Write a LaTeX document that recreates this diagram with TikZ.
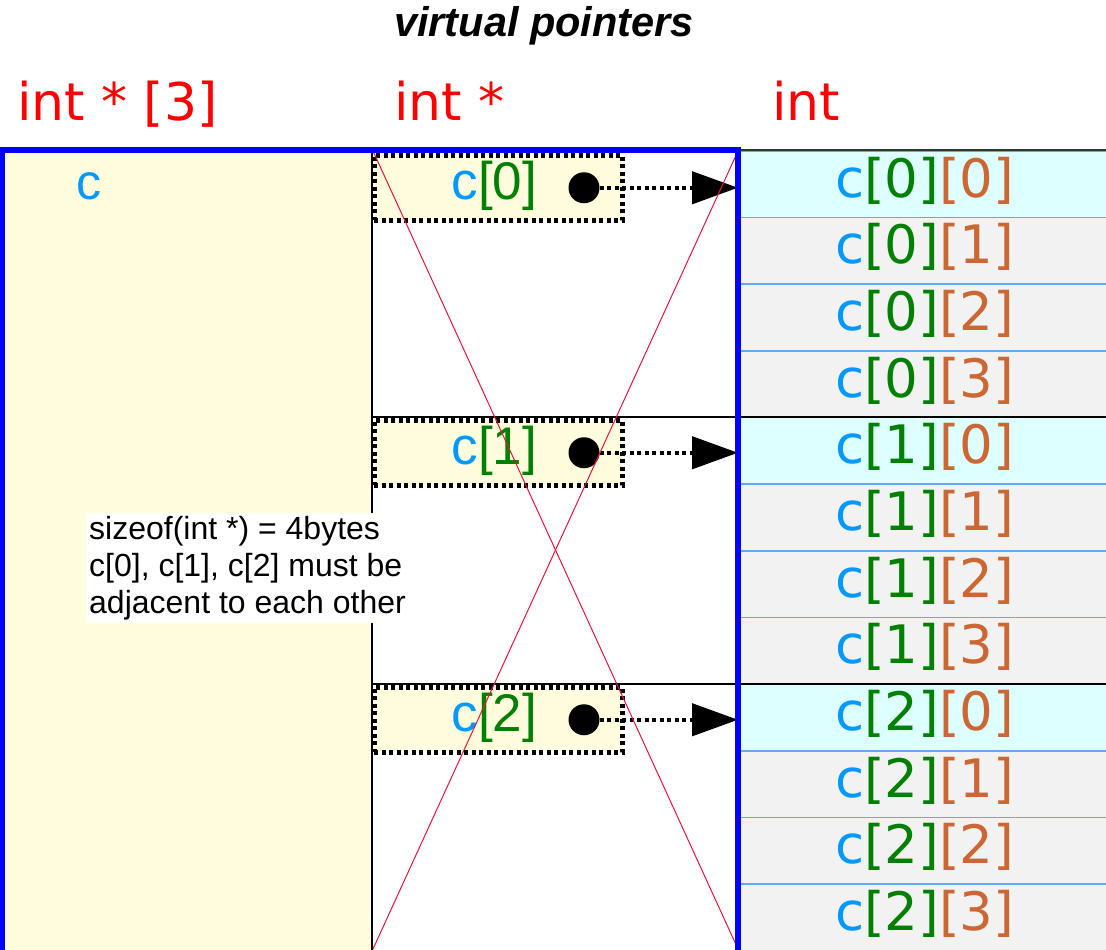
\documentclass[tikz,border=0pt]{standalone}
\usepackage{fontspec}
\setmainfont{Liberation Sans}
\newfontfamily\dejavu{DejaVu Sans}
\usetikzlibrary{arrows.meta}
\definecolor{cblue}{RGB}{0,153,255}
\definecolor{cgreen}{RGB}{0,128,0}
\definecolor{corange}{RGB}{204,102,51}
\definecolor{lyellow}{RGB}{255,253,222}
\definecolor{lcyan}{RGB}{222,255,255}
\definecolor{lgray}{RGB}{242,242,242}
\definecolor{sepblue}{RGB}{95,170,240}
\definecolor{xred}{RGB}{232,20,60}
\definecolor{bblue}{RGB}{0,0,255}
\begin{document}
\begin{tikzpicture}[x=1pt,y=-1pt,
  txt/.style={inner sep=0pt, outer sep=0pt},
  hdr/.style={txt, anchor=base west, text=red, font=\dejavu\fontsize{52}{52}\selectfont},
  celltext/.style={txt, anchor=base, font=\dejavu\fontsize{53}{53}\selectfont},
  cellbox/.style={rectangle, draw=sepblue, line width=1.5pt, minimum width=372pt, minimum height=66.667pt, inner sep=0pt, anchor=north west},
  ptrbox/.style={rectangle, draw=black, fill=lyellow, line width=4.5pt, dash pattern=on 4pt off 3.5pt, minimum width=248pt, minimum height=65pt, inner sep=0pt, anchor=north west},
  ptrtext/.style={txt, anchor=base west, font=\fontsize{53}{53}\selectfont},
  dotnode/.style={circle, fill=black, minimum size=31pt, inner sep=0pt},
  ptrarrow/.style={draw=black, line width=4.5pt, dash pattern=on 4pt off 3.5pt, -{Triangle[length=46pt,width=32pt]}},
  sepline/.style={draw=black, line width=2pt},
  crossline/.style={draw=xred, line width=1pt},
]
\useasboundingbox (0,0) rectangle (1106,950);
% title and headers
\node[txt, anchor=base, font=\bfseries\itshape\fontsize{41.5}{41.5}\selectfont] (title) at (544,37) {virtual pointers};
\node[hdr] (h1) at (17,121) {int * [3]};
\node[hdr] (h2) at (394,121) {int *};
\node[hdr] (h3) at (772,121) {int};
% left area
\fill[lyellow] (2,150) rectangle (372,955);
\node[txt, anchor=base west, text=cblue, font=\fontsize{50}{50}\selectfont] (cvar) at (76,199) {c};
% right cells
\foreach \g in {0,1,2} {
  \foreach \k in {0,1,2,3} {
    \pgfmathsetmacro\rtop{150+(\g*4+\k)*800/12}
    \ifnum\k=0 \def\fc{lcyan}\else\def\fc{lgray}\fi
    \node[cellbox, fill=\fc] (cell\g\k) at (738,\rtop) {};
    \node[celltext] at ([xshift=0pt,yshift=-47pt]cell\g\k.north)
      {\textcolor{cblue}{c}\textcolor{cgreen}{[\g]}\textcolor{corange}{[\k]}};
  }
}
\draw[draw=black!80, line width=2pt] (738,150) -- (1106,150);
% middle column lines
\draw[sepline] (372,150) -- (372,955);
\draw[sepline] (372,417) -- (1110,417);
\draw[sepline] (372,684) -- (1110,684);
% pointer boxes
\foreach \i/\t in {0/153,1/418,2/685} {
  \node[ptrbox] (p\i) at (372,\t) {};
  \node[ptrtext] (pt\i) at ([yshift=-46pt]p\i.north west -| 451.5,0) {\textcolor{cblue}{c}\textcolor{cgreen}{[\i]}};
  \node[dotnode] (d\i) at (p\i.center -| 584,0) {};
  \draw[ptrarrow] (d\i.east) -- (d\i -| cell\i0.west);
}
% info box
\node[anchor=north west, fill=white, inner sep=3pt, align=left, font=\fontsize{32}{37}\selectfont] (info) at (86,513)
  {sizeof(int *) = 4bytes\\c[0], c[1], c[2] must be\\adjacent to each other};
% red cross
\coordinate (xa) at (373,151);
\coordinate (xb) at (738,949);
\coordinate (xc) at (738,151);
\coordinate (xd) at (373,949);
\draw[crossline] (xa) -- (xb);
\draw[crossline] (xc) -- (xd);
% blue frame
\draw[bblue, line width=6pt] (2,150) rectangle (738,956);
\end{tikzpicture}
\end{document}
